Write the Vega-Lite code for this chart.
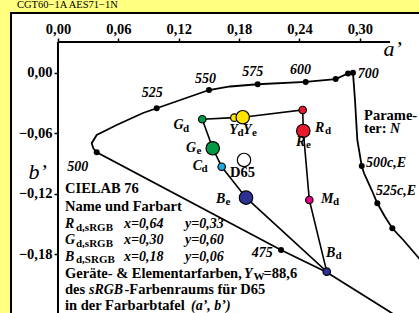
{
  "$schema": "https://vega.github.io/schema/vega-lite/v6.json",
  "width": 410,
  "height": 302,
  "autosize": {"type": "none"},
  "padding": {"left": 11, "top": 13, "right": 0, "bottom": 0},
  "background": "#ffff80",
  "view": {"fill": "white", "stroke": "black", "strokeWidth": 2},
  "datasets": {
    "header": [
      {"t": "CGT60−1A  AES71−1N", "a": -0.0407, "b": 0.0640}
    ],
    "axislines": [
      {"a": 0, "b": 0.0308, "a2": 0.330, "b2": 0.0308},
      {"a": 0, "b": 0.0308, "a2": 0, "b2": -0.26}
    ],
    "locus": [
      {"i": 1, "a": 0.3797, "b": -0.2698},
      {"i": 2, "a": 0.3270, "b": -0.2351},
      {"i": 3, "a": 0.2671, "b": -0.1977},
      {"i": 4, "a": 0.2217, "b": -0.1756},
      {"i": 5, "a": 0.0385, "b": -0.0787},
      {"i": 6, "a": 0.0351, "b": -0.0747},
      {"i": 7, "a": 0.0335, "b": -0.0697},
      {"i": 8, "a": 0.0385, "b": -0.0615},
      {"i": 9, "a": 0.0583, "b": -0.0516},
      {"i": 10, "a": 0.0845, "b": -0.0397},
      {"i": 11, "a": 0.0981, "b": -0.0350},
      {"i": 12, "a": 0.1501, "b": -0.0169},
      {"i": 13, "a": 0.1710, "b": -0.0134},
      {"i": 14, "a": 0.1985, "b": -0.0112},
      {"i": 15, "a": 0.2462, "b": -0.0089},
      {"i": 16, "a": 0.2760, "b": -0.0060},
      {"i": 17, "a": 0.2883, "b": -0.0005},
      {"i": 18, "a": 0.2932, "b": 0.0003},
      {"i": 19, "a": 0.2952, "b": -0.0268},
      {"i": 20, "a": 0.2975, "b": -0.0665},
      {"i": 21, "a": 0.3019, "b": -0.0923},
      {"i": 22, "a": 0.3042, "b": -0.0995},
      {"i": 23, "a": 0.3118, "b": -0.1161},
      {"i": 24, "a": 0.3174, "b": -0.1293},
      {"i": 25, "a": 0.3250, "b": -0.1426},
      {"i": 26, "a": 0.3323, "b": -0.1541},
      {"i": 27, "a": 0.3432, "b": -0.1657},
      {"i": 28, "a": 0.3588, "b": -0.1838},
      {"i": 29, "a": 0.3797, "b": -0.2054}
    ],
    "locusdots": [
      {"nm": "475", "a": 0.2217, "b": -0.1756},
      {"nm": "500", "a": 0.0385, "b": -0.0787},
      {"nm": "525", "a": 0.0981, "b": -0.0350},
      {"nm": "550", "a": 0.1501, "b": -0.0169},
      {"nm": "575", "a": 0.1985, "b": -0.0112},
      {"nm": "600", "a": 0.2462, "b": -0.0089},
      {"nm": "625", "a": 0.2760, "b": -0.0060},
      {"nm": "650", "a": 0.2883, "b": -0.0005},
      {"nm": "700", "a": 0.2932, "b": 0.0003},
      {"nm": "500c", "a": 0.3019, "b": -0.0923},
      {"nm": "525c", "a": 0.3174, "b": -0.1293},
      {"nm": "550c", "a": 0.3323, "b": -0.1541}
    ],
    "tri": [
      {"i": 1, "a": 0.1434, "b": -0.0459},
      {"i": 2, "a": 0.1753, "b": -0.0443},
      {"i": 3, "a": 0.1836, "b": -0.0439},
      {"i": 4, "a": 0.2432, "b": -0.0367},
      {"i": 5, "a": 0.2438, "b": -0.0575},
      {"i": 6, "a": 0.2498, "b": -0.1260},
      {"i": 7, "a": 0.2671, "b": -0.1971},
      {"i": 8, "a": 0.1869, "b": -0.1237},
      {"i": 9, "a": 0.1627, "b": -0.0930},
      {"i": 10, "a": 0.1538, "b": -0.0747},
      {"i": 11, "a": 0.1434, "b": -0.0459}
    ],
    "colorpts": [
      {"k": "G", "t": "d", "a": 0.1434, "b": -0.0459},
      {"k": "Y", "t": "d", "a": 0.1753, "b": -0.0443},
      {"k": "R", "t": "d", "a": 0.2432, "b": -0.0367},
      {"k": "C", "t": "d", "a": 0.1627, "b": -0.0930},
      {"k": "M", "t": "d", "a": 0.2498, "b": -0.1260},
      {"k": "B", "t": "d", "a": 0.2671, "b": -0.1971},
      {"k": "Y", "t": "e", "a": 0.1836, "b": -0.0439},
      {"k": "R", "t": "e", "a": 0.2438, "b": -0.0575},
      {"k": "G", "t": "e", "a": 0.1538, "b": -0.0747},
      {"k": "B", "t": "e", "a": 0.1869, "b": -0.1237},
      {"k": "W", "t": "e", "a": 0.1849, "b": -0.0863}
    ],
    "boldtext": [
      {"t": "CIELAB 76", "a": 0.0070, "b": -0.1193},
      {"t": "Name und Farbart", "a": 0.0070, "b": -0.1369},
      {"t": "Geräte- & Elementarfarben,", "a": 0.0070, "b": -0.2034},
      {"t": "=88,6", "a": 0.2043, "b": -0.2034},
      {"t": "des", "a": 0.0070, "b": -0.2197},
      {"t": "-Farbenraums für D65", "a": 0.0661, "b": -0.2197},
      {"t": "in der Farbarbtafel", "a": 0.0070, "b": -0.2356},
      {"t": "D65", "a": 0.1710, "b": -0.1035},
      {"t": "Parame-", "a": 0.3042, "b": -0.0466},
      {"t": "ter:", "a": 0.3042, "b": -0.0595}
    ],
    "italictext": [
      {"t": "525", "a": 0.0832, "b": -0.0241},
      {"t": "550", "a": 0.1362, "b": -0.0096},
      {"t": "575", "a": 0.1832, "b": -0.0030},
      {"t": "600", "a": 0.2306, "b": -0.0010},
      {"t": "700", "a": 0.2979, "b": -0.0053},
      {"t": "500", "a": 0.0092, "b": -0.0969},
      {"t": "475", "a": 0.1925, "b": -0.1828},
      {"t": "500c,E", "a": 0.3062, "b": -0.0930},
      {"t": "525c,E", "a": 0.3161, "b": -0.1210},
      {"t": "N", "a": 0.3300, "b": -0.0595},
      {"t": "R", "a": 0.0070, "b": -0.1541},
      {"t": "x=0,64", "a": 0.0656, "b": -0.1541},
      {"t": "y=0,33", "a": 0.1262, "b": -0.1541},
      {"t": "G", "a": 0.0070, "b": -0.1701},
      {"t": "x=0,30", "a": 0.0656, "b": -0.1701},
      {"t": "y=0,60", "a": 0.1262, "b": -0.1701},
      {"t": "B", "a": 0.0070, "b": -0.1865},
      {"t": "x=0,18", "a": 0.0656, "b": -0.1865},
      {"t": "y=0,06", "a": 0.1262, "b": -0.1865},
      {"t": "Y", "a": 0.1849, "b": -0.2034},
      {"t": "sRGB", "a": 0.0308, "b": -0.2197},
      {"t": "(a’, b’)", "a": 0.1322, "b": -0.2356},
      {"t": "G", "a": 0.1147, "b": -0.0559},
      {"t": "G", "a": 0.1272, "b": -0.0781},
      {"t": "C", "a": 0.1339, "b": -0.0967},
      {"t": "Y", "a": 0.1703, "b": -0.0608},
      {"t": "Y", "a": 0.1839, "b": -0.0608},
      {"t": "R", "a": 0.2555, "b": -0.0588},
      {"t": "R", "a": 0.2366, "b": -0.0724},
      {"t": "B", "a": 0.1571, "b": -0.1293},
      {"t": "M", "a": 0.2614, "b": -0.1293},
      {"t": "B", "a": 0.2664, "b": -0.1828}
    ],
    "subtext": [
      {"t": "d,sRGB", "a": 0.0179, "b": -0.1567},
      {"t": "d,sRGB", "a": 0.0179, "b": -0.1726},
      {"t": "d,SRGB", "a": 0.0179, "b": -0.1890},
      {"t": "W", "a": 0.1943, "b": -0.2058},
      {"t": "d", "a": 0.1243, "b": -0.0582},
      {"t": "e", "a": 0.1377, "b": -0.0804},
      {"t": "d", "a": 0.1426, "b": -0.0987},
      {"t": "d", "a": 0.1784, "b": -0.0628},
      {"t": "e", "a": 0.1928, "b": -0.0628},
      {"t": "d", "a": 0.2654, "b": -0.0610},
      {"t": "e", "a": 0.2465, "b": -0.0747},
      {"t": "e", "a": 0.1665, "b": -0.1314},
      {"t": "d", "a": 0.2734, "b": -0.1314},
      {"t": "d", "a": 0.2758, "b": -0.1850}
    ]
  },
  "encoding": {
    "x": {
      "field": "a", "type": "quantitative",
      "scale": {"domain": [-0.0467, 0.3608], "nice": false, "zero": false},
      "axis": {
        "orient": "top", "offset": -29, "values": [0, 0.06, 0.12, 0.18, 0.24, 0.3],
        "domain": false, "grid": false, "tickSize": 4, "tickWidth": 1.5, "tickColor": "black",
        "labelFont": "Liberation Serif", "labelFontSize": 14.5, "labelFontWeight": "bold", "labelColor": "black",
        "labelPadding": 2, "labelFlush": false, "labelOverlap": false, "labelBound": false,
        "labelExpr": "replace(format(datum.value, '.2f'), '.', ',')",
        "title": "a’", "titleFont": "Liberation Serif", "titleFontSize": 22, "titleFontStyle": "italic", "titleFontWeight": "normal", "titleColor": "black",
        "titleX": 372, "titleY": 13, "titleAlign": "left", "titleBaseline": "alphabetic", "titleAngle": 0
      }
    },
    "y": {
      "field": "b", "type": "quantitative",
      "scale": {"domain": [-0.2401, 0.0595], "nice": false, "zero": false},
      "axis": {
        "orient": "left", "offset": -47, "values": [0, -0.06, -0.12, -0.18],
        "domain": false, "grid": false, "tickSize": 4, "tickWidth": 1.5, "tickColor": "black",
        "labelFont": "Liberation Serif", "labelFontSize": 14.5, "labelFontWeight": "bold", "labelColor": "black",
        "labelPadding": 2, "labelFlush": false, "labelOverlap": false, "labelBound": false,
        "labelExpr": "replace(format(datum.value, '.2f'), '.', ',')",
        "title": "b’", "titleFont": "Liberation Serif", "titleFontSize": 22, "titleFontStyle": "italic", "titleFontWeight": "normal", "titleColor": "black",
        "titleX": -30, "titleY": 165, "titleAlign": "left", "titleBaseline": "alphabetic", "titleAngle": 0
      }
    }
  },
  "layer": [
    {
      "data": {"name": "header"},
      "mark": {"type": "text", "font": "Liberation Serif", "fontSize": 10.5, "align": "left", "baseline": "alphabetic", "color": "black", "clip": false},
      "encoding": {"text": {"field": "t"}}
    },
    {
      "data": {"name": "axislines"},
      "mark": {"type": "rule", "color": "black", "strokeWidth": 2},
      "encoding": {"x2": {"field": "a2"}, "y2": {"field": "b2"}}
    },
    {
      "data": {"name": "locus"},
      "mark": {"type": "line", "color": "black", "strokeWidth": 1.8, "clip": true},
      "encoding": {"order": {"field": "i", "type": "quantitative"}}
    },
    {
      "data": {"name": "locusdots"},
      "mark": {"type": "circle", "color": "black", "size": 36, "opacity": 1},
      "encoding": {}
    },
    {
      "data": {"name": "tri"},
      "mark": {"type": "line", "color": "black", "strokeWidth": 1.6},
      "encoding": {"order": {"field": "i", "type": "quantitative"}}
    },
    {
      "data": {"name": "colorpts"},
      "mark": {"type": "circle", "stroke": "black", "strokeWidth": 1.2, "opacity": 1},
      "encoding": {
        "fill": {"field": "k", "type": "nominal", "legend": null,
          "scale": {"domain": ["G", "Y", "R", "C", "M", "B", "W"], "range": ["#009a44", "#ffe500", "#e8192c", "#22a6e0", "#e5007e", "#2e3192", "#ffffff"]}},
        "size": {"field": "t", "type": "ordinal", "legend": null,
          "scale": {"domain": ["d", "e"], "range": [56, 180]}}
      }
    },
    {
      "data": {"name": "boldtext"},
      "mark": {"type": "text", "font": "Liberation Serif", "fontSize": 14.5, "fontWeight": "bold", "align": "left", "baseline": "alphabetic", "color": "black"},
      "encoding": {"text": {"field": "t"}}
    },
    {
      "data": {"name": "italictext"},
      "mark": {"type": "text", "font": "Liberation Serif", "fontSize": 14, "fontWeight": "bold", "fontStyle": "italic", "align": "left", "baseline": "alphabetic", "color": "black"},
      "encoding": {"text": {"field": "t"}}
    },
    {
      "data": {"name": "subtext"},
      "mark": {"type": "text", "font": "Liberation Serif", "fontSize": 11, "fontWeight": "bold", "align": "left", "baseline": "alphabetic", "color": "black"},
      "encoding": {"text": {"field": "t"}}
    }
  ]
}
